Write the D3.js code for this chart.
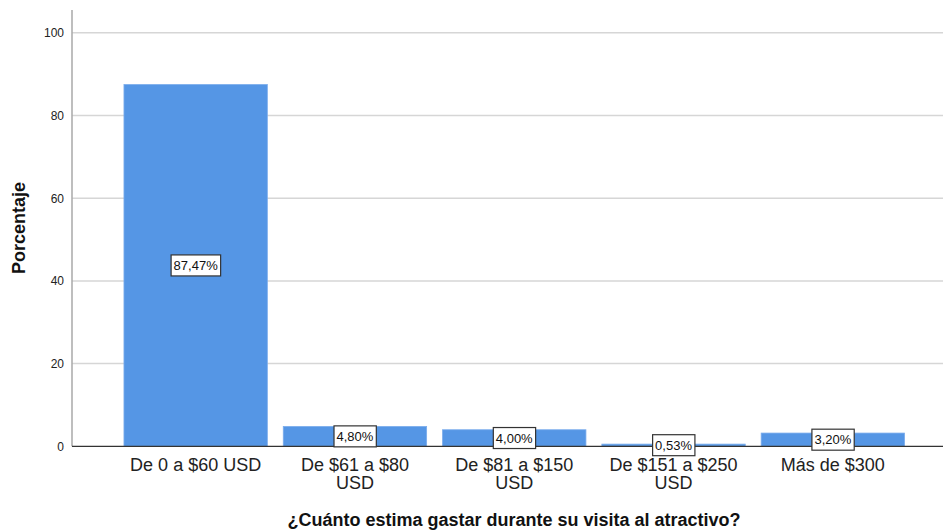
<!DOCTYPE html>
<html>
<head>
<meta charset="utf-8">
<script src="https://cdn.jsdelivr.net/npm/d3@7"></script>
<style>
  body { margin: 0; background: #fff; }
  svg { display: block; font-family: "Liberation Sans", Arial, sans-serif; }
</style>
</head>
<body>
<script>
// data
var categories = ["De 0 a $60 USD", "De $61 a $80 USD", "De $81 a $150 USD", "De $151 a $250 USD", "Más de $300"];
var values = [87.47, 4.80, 4.00, 0.53, 3.20];
var labels = ["87,47%", "4,80%", "4,00%", "0,53%", "3,20%"];
var yTicks = [0, 20, 40, 60, 80, 100];

var width = 943, height = 530;
var plotLeft = 72, plotRight = 943, plotTop = 10, plotBottom = 446.3;

var svg = d3.select("body").append("svg")
    .attr("width", width)
    .attr("height", height);

var x = d3.scaleBand()
    .domain(categories)
    .range([116, 912.5])
    .paddingInner(0.1)
    .paddingOuter(0.05);

var y = d3.scaleLinear()
    .domain([0, 105.5])
    .range([plotBottom, plotTop]);

// gridlines
svg.append("g")
    .selectAll("line")
    .data(yTicks.filter(function(d) { return d > 0; }))
    .enter().append("line")
    .attr("x1", plotLeft).attr("x2", plotRight)
    .attr("y1", function(d) { return y(d); })
    .attr("y2", function(d) { return y(d); })
    .attr("stroke", "#d6d6d6")
    .attr("stroke-width", 1.5);

// y axis
var yAxis = svg.append("g")
    .attr("transform", "translate(" + plotLeft + ",0)")
    .call(d3.axisLeft(y).tickValues(yTicks).tickSize(0).tickPadding(8));
yAxis.select(".domain").remove();
yAxis.selectAll("text")
    .attr("font-size", 12)
    .attr("fill", "#222")
    .style("font-family", "'Liberation Sans', Arial, sans-serif");

svg.append("line")
    .attr("x1", plotLeft).attr("x2", plotLeft)
    .attr("y1", plotTop).attr("y2", plotBottom)
    .attr("stroke", "#a8a8a8")
    .attr("stroke-width", 1.5);

// bars
svg.append("g")
    .selectAll("rect")
    .data(values)
    .enter().append("rect")
    .attr("x", function(d, i) { return x(categories[i]); })
    .attr("width", x.bandwidth())
    .attr("y", function(d) { return y(d); })
    .attr("height", function(d) { return y(0) - y(d); })
    .attr("fill", "#5596e5")
    .attr("stroke", "#7aacec")
    .attr("stroke-width", 0.8);

// x axis line
svg.append("line")
    .attr("x1", plotLeft).attr("x2", plotRight)
    .attr("y1", plotBottom).attr("y2", plotBottom)
    .attr("stroke", "#333")
    .attr("stroke-width", 1.2);

// x tick labels, wrapped at the bar width
var xl = svg.append("g")
    .selectAll("text")
    .data(categories)
    .enter().append("text")
    .attr("x", function(d) { return x(d) + x.bandwidth() / 2; })
    .attr("y", 471)
    .attr("text-anchor", "middle")
    .attr("font-size", 18)
    .attr("fill", "#222")
    .text(function(d) { return d; });

xl.each(function(d) {
    var t = d3.select(this), words = d.split(" "), line = [];
    var cx = t.attr("x");
    t.text(null);
    var span = t.append("tspan").attr("x", cx);
    words.forEach(function(w) {
        line.push(w);
        span.text(line.join(" "));
        if (span.node().getComputedTextLength() > x.bandwidth() && line.length > 1) {
            line.pop();
            span.text(line.join(" "));
            line = [w];
            span = t.append("tspan").attr("x", cx).attr("dy", 18).text(w);
        }
    });
});

// value labels with boxes
var lab = svg.append("g")
    .selectAll("g")
    .data(values)
    .enter().append("g")
    .attr("transform", function(d, i) {
        return "translate(" + (x(categories[i]) + x.bandwidth() / 2) + "," + ((y(d) + y(0)) / 2) + ")";
    });

lab.append("text")
    .attr("text-anchor", "middle")
    .attr("dy", "0.36em")
    .attr("font-size", 13)
    .attr("fill", "#111")
    .text(function(d, i) { return labels[i]; });

lab.each(function() {
    var g = d3.select(this);
    var bb = g.select("text").node().getBBox();
    g.insert("rect", "text")
        .attr("x", bb.x - 2.5)
        .attr("y", -10.5)
        .attr("width", bb.width + 5)
        .attr("height", 21)
        .attr("fill", "#fff")
        .attr("stroke", "#333")
        .attr("stroke-width", 1.2);
});

// axis titles
svg.append("text")
    .attr("transform", "translate(25,228) rotate(-90)")
    .attr("text-anchor", "middle")
    .attr("font-size", 18)
    .attr("font-weight", "bold")
    .attr("fill", "#111")
    .text("Porcentaje");

svg.append("text")
    .attr("x", 514)
    .attr("y", 526)
    .attr("text-anchor", "middle")
    .attr("font-size", 18)
    .attr("font-weight", "bold")
    .attr("fill", "#111")
    .text("¿Cuánto estima gastar durante su visita al atractivo?");
</script>
</body>
</html>
